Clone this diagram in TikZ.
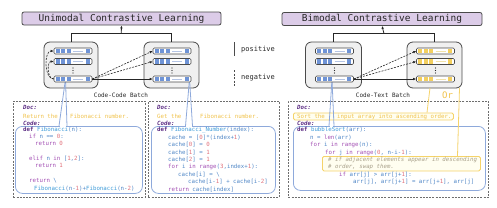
\documentclass[tikz,border=0pt]{standalone}
\usepackage{fontspec}
\setmonofont{DejaVu Sans Mono}
\usetikzlibrary{calc,arrows.meta}
\definecolor{titlefill}{HTML}{DCCCE8}
\definecolor{edge}{HTML}{4A4A4A}
\definecolor{boxfill}{HTML}{F0F0F0}
\definecolor{tokblue}{HTML}{6E93D6}
\definecolor{tokbluel}{HTML}{B4C4E4}
\definecolor{tokyel}{HTML}{F3CF5E}
\definecolor{tokyell}{HTML}{F2E2A8}
\definecolor{codeblue}{HTML}{8EA9DB}
\definecolor{lineyel}{HTML}{F5D36A}
\definecolor{docyel}{HTML}{F0C24B}
\definecolor{kwpurple}{HTML}{A24FB3}
\definecolor{defpurple}{HTML}{5B2C83}
\definecolor{idblue}{HTML}{4F86C6}
\definecolor{fnblue}{HTML}{3E9BD8}
\definecolor{numc}{HTML}{E0707A}
\definecolor{plain}{HTML}{3A3A3A}
\definecolor{dashgray}{HTML}{6E6E6E}
\definecolor{cmtgray}{HTML}{A8A08A}
\newcommand\ckw[1]{\textcolor{kwpurple}{#1}}
\newcommand\cdef[1]{\textcolor{defpurple}{\bfseries #1}}
\newcommand\cfn[1]{\textcolor{fnblue}{#1}}
\newcommand\cnum[1]{\textcolor{numc}{#1}}
\newcommand\cdoc[1]{\textcolor{defpurple}{\itshape\bfseries #1}}
\tikzset{
  ttl/.style={draw=edge, fill=titlefill, line width=0.8pt, rounded corners=2pt, minimum height=13pt, inner sep=0pt, text=black!85, font=\ttfamily\fontsize{9.5}{10}\selectfont},
  batch/.style={draw=edge, fill=boxfill, line width=0.8pt, rounded corners=6pt, inner sep=0pt},
  tbar/.style={draw=edge, fill=white, line width=0.6pt, rounded corners=1.2pt, minimum width=38pt, minimum height=6pt, inner sep=0pt},
  outerbox/.style={draw=dashgray, line width=0.9pt, dash pattern=on 2pt off 1.2pt, inner sep=0pt, anchor=north west},
  codebox/.style={draw=codeblue, line width=0.8pt, rounded corners=7pt, inner sep=0pt, anchor=north west},
  ybox/.style={draw=lineyel, fill=yellow!6, line width=0.8pt, rounded corners=1.5pt, inner sep=0pt, anchor=north west},
  bline/.style={draw=codeblue, line width=0.8pt},
  yline/.style={draw=lineyel, line width=0.8pt},
  ct/.style={anchor=base west, yshift=-2pt, inner sep=0pt, text=idblue, font=\ttfamily\fontsize{5.75}{6}\selectfont},
  lbl/.style={inner sep=0pt, text=black!85, font=\ttfamily\fontsize{6}{6}\selectfont},
  posarr/.style={-{Latex[length=3pt,width=2.6pt]}, line width=0.6pt, draw=black!85},
  negarr/.style={posarr, dash pattern=on 2pt off 1.2pt},
  uparr/.style={line width=0.8pt, draw=black!85}
}
\newcommand\tokbar[5]{%
  \node[tbar] (#1) at (#2,#3) {};
  \fill[#4] ($(#1.west)+(2,-2.1)$) rectangle ++(4,4.2);
  \fill[#4] ($(#1.west)+(7.5,-2.1)$) rectangle ++(4,4.2);
  \fill[#4] ($(#1.west)+(13,-2.1)$) rectangle ++(4,4.2);
  \draw[#5, line width=1pt] ($(#1.west)+(19.5,0)$) -- ++(10,0);
  \fill[#4] ($(#1.west)+(32,-2.1)$) rectangle ++(4,4.2);
}
\newcommand\vdotsat[2]{%
  \foreach \dy in {-2.5,0,2.5} {\fill[black!85] (#1,#2+\dy) circle (0.55);}
}
\begin{document}
\begin{tikzpicture}[x=1pt,y=-1pt]
\useasboundingbox (0,0) rectangle (497,207);

% outer dashed containers
\node[outerbox, minimum width=132pt, minimum height=96pt] (D1) at (13,101) {};
\node[outerbox, minimum width=131pt, minimum height=96pt] (D2) at (148,101) {};
\node[outerbox, minimum width=200pt, minimum height=96pt] (D3) at (288,101) {};

% titles
\node[ttl, minimum width=199pt] (T1) at (121.5,18.5) {Unimodal Contrastive Learning};
\node[ttl, minimum width=200pt] (T2) at (382,19) {Bimodal Contrastive Learning};

% batch boxes
\node[batch, minimum width=54pt, minimum height=46pt] (B1) at (71,65) {};
\node[batch, minimum width=55pt, minimum height=46pt] (B2) at (171.5,65) {};
\node[batch, minimum width=56pt, minimum height=46pt] (B3) at (333.5,65) {};
\node[batch, minimum width=55pt, minimum height=46pt] (B4) at (434.5,65) {};

% up connectors
\draw[uparr] (B1.north) -- ++(0,-8) coordinate (j1) -| (B2.north);
\draw[uparr, -{Latex[length=3pt,width=2.6pt]}] ($(j1)!0.5!(B2.north |- j1)$) -- (T1.south);
\draw[uparr] (B3.north) -- ++(0,-8) coordinate (j2) -| (B4.north);
\draw[uparr, -{Latex[length=3pt,width=2.6pt]}] ($(j2)!0.5!(B4.north |- j2)$) -- (T2.south);

% yellow boxes (doc and comment)
\node[ybox, minimum width=160pt, minimum height=7pt] (Y1) at (293,112.5) {};
\node[ybox, minimum width=158pt, minimum height=14.5pt] (Y2) at (322,156) {};

% code boxes
\node[codebox, minimum width=127pt, minimum height=67pt] (C1) at (15,126) {};
\node[codebox, minimum width=124pt, minimum height=67pt] (C2) at (151,126) {};
\node[codebox, minimum width=192pt, minimum height=64pt] (C3) at (293,126) {};

% tabs
\coordinate (t1) at (65.5,79);  \coordinate (t1l) at (59,126);   \coordinate (t1r) at (67,126);
\coordinate (t2) at (189.5,79); \coordinate (t2l) at (185.5,126); \coordinate (t2r) at (192.5,126);
\coordinate (t3) at (332,79);   \coordinate (t3l) at (329,126);  \coordinate (t3r) at (334,126);
\foreach \a/\b in {t1l/t1r, t2l/t2r, t3l/t3r} {
  \fill[white] ($(\a)+(0.6,-1.2)$) rectangle ($(\b)+(-0.6,1.2)$);
}
\draw[bline] (t1) -- (t1l); \draw[bline] (t1) -- (t1r);
\draw[bline] (t2) -- (t2l); \draw[bline] (t2) -- (t2r);
\draw[bline] (t3) -- (t3l); \draw[bline] (t3) -- (t3r);

% yellow connectors
\coordinate (y1s) at (430,88);   \coordinate (y1e) at (427,112.5);
\coordinate (y2s) at (459.5,88); \coordinate (y2e) at (457.5,156);
\draw[yline] (y1s) -- (y1e);
\draw[yline] (y2s) -- (y2e);
\node[inner sep=0pt, text=docyel, font=\ttfamily\fontsize{9}{9}\selectfont] (or) at (447.5,95) {Or};

% token bars
\tokbar{a1}{73}{51}{tokblue}{tokbluel}
\tokbar{a2}{73}{61.5}{tokblue}{tokbluel}
\tokbar{a3}{73}{79}{tokblue}{tokbluel}
\tokbar{b1}{172}{51}{tokblue}{tokbluel}
\tokbar{b2}{172}{61.5}{tokblue}{tokbluel}
\tokbar{b3}{172}{79}{tokblue}{tokbluel}
\tokbar{c1}{334.5}{51}{tokblue}{tokbluel}
\tokbar{c2}{334.5}{61.5}{tokblue}{tokbluel}
\tokbar{c3}{334.5}{79}{tokblue}{tokbluel}
\tokbar{e1}{435.5}{51}{tokyel}{tokyell}
\tokbar{e2}{435.5}{61.5}{tokyel}{tokyell}
\tokbar{e3}{435.5}{79}{tokyel}{tokyell}
\vdotsat{73}{70.5}
\vdotsat{172}{70.5}
\vdotsat{334.5}{70.5}
\vdotsat{435.5}{70.5}

% contrast arrows
\draw[negarr] (a3.west) to[out=180,in=180,looseness=0.9] (a1.west);
\draw[negarr] (a3.west) to[out=180,in=180,looseness=1.0] (a2.west);
\draw[negarr] (a3.east) -- (b1.west);
\draw[negarr] (a3.east) -- (b2.west);
\draw[posarr] (a3.east) -- (b3.west);
\draw[negarr] (c3.east) -- (e1.west);
\draw[negarr] (c3.east) -- (e2.west);
\draw[posarr] (c3.east) -- (e3.west);

% batch labels
\node[lbl] (L1) at (121,95) {Code-Code Batch};
\node[lbl] (L2) at (383,95) {Code-Text Batch};

% legend
\coordinate (g1) at (234,42); \coordinate (g2) at (234,56);
\coordinate (g3) at (234,70); \coordinate (g4) at (234,86);
\draw[line width=1pt, draw=black!70] (g1) -- (g2);
\draw[line width=1pt, draw=black!70, dash pattern=on 2pt off 1.5pt] (g3) -- (g4);
\node[lbl, anchor=west, font=\ttfamily\fontsize{7}{7}\selectfont] (pos) at (241,49.5) {positive};
\node[lbl, anchor=west, font=\ttfamily\fontsize{7}{7}\selectfont] (neg) at (241,78) {negative};

% ---- code 1 ----
\node[ct] (p1) at (23,107) {\cdoc{Doc:}};
\node[ct, text=docyel] (p2) at (23,116) {Return the};
\node[ct, text=docyel] (p3) at (70,116) {Fibonacci number.};
\node[ct] (p4) at (23,123) {\cdoc{Code:}};
\node[ct] (p5) at (23,129.5) {\cdef{def} \cfn{Fibonacci}(n):};
\node[ct] (p6) at (29,136.5) {\ckw{if} n == \cnum{0}:};
\node[ct] (p7) at (35,143.5) {\ckw{return} \cnum{0}};
\node[ct] (p8) at (29,158) {\ckw{elif} n \ckw{in} [\cnum{1},\cnum{2}]:};
\node[ct] (p9) at (35,165) {\ckw{return} \cnum{1}};
\node[ct] (p10) at (29,180) {\ckw{return} \textbackslash};
\node[ct] (p11) at (34,188) {\cfn{Fibonacci}(n-\cnum{1})+\cfn{Fibonacci}(n-\cnum{2})};

% ---- code 2 ----
\node[ct] (q1) at (157,107) {\cdoc{Doc:}};
\node[ct, text=docyel] (q2) at (157,116) {Get the};
\node[ct, text=docyel] (q3) at (200,116) {Fibonacci number.};
\node[ct] (q4) at (157,123) {\cdoc{Code:}};
\node[ct] (q5) at (157,129.5) {\cdef{def} \cfn{Fibonacci\_Number}(index):};
\node[ct] (q6) at (168,137) {cache = [\cnum{0}]*(index+\cnum{1})};
\node[ct] (q7) at (168,144.5) {cache[\cnum{0}] = \cnum{0}};
\node[ct] (q8) at (168,152) {cache[\cnum{1}] = \cnum{1}};
\node[ct] (q9) at (168,159) {cache[\cnum{2}] = \cnum{1}};
\node[ct] (q10) at (168,166.5) {\ckw{for} i \ckw{in} \ckw{range}(\cnum{3},index+\cnum{1}):};
\node[ct] (q11) at (178,174) {cache[i] = \textbackslash};
\node[ct] (q12) at (188,181.5) {cache[i-\cnum{1}] + cache[i-\cnum{2}]};
\node[ct] (q13) at (168,189) {\ckw{return} cache[index]};

% ---- code 3 ----
\node[ct] (r1) at (297,107) {\cdoc{Doc:}};
\node[ct, text=docyel] (r2) at (297,116) {Sort the};
\node[ct, text=docyel] (r3) at (337,116) {input array into ascending order.};
\node[ct] (r4) at (297,123) {\cdoc{Code:}};
\node[ct] (r5) at (297,129.5) {\cdef{def} \cfn{bubbleSort}(arr):};
\node[ct] (r6) at (310,137) {n = \ckw{len}(arr)};
\node[ct] (r7) at (310,144.5) {\ckw{for} i \ckw{in} \ckw{range}(n):};
\node[ct] (r8) at (325,152) {\ckw{for} j \ckw{in} \ckw{range}(\cnum{0}, n-i-\cnum{1}):};
\node[ct, text=cmtgray, font=\ttfamily\itshape\fontsize{5.75}{6}\selectfont] (r9) at (328,159.5) {\# if adjacent elements appear in descending};
\node[ct, text=cmtgray, font=\ttfamily\itshape\fontsize{5.75}{6}\selectfont] (r10) at (328,166.5) {\# order, swap them.};
\node[ct] (r11) at (339,174) {\ckw{if} arr[j] > arr[j+\cnum{1}]:};
\node[ct] (r12) at (353,181.5) {arr[j], arr[j+\cnum{1}] = arr[j+\cnum{1}], arr[j]};
\end{tikzpicture}
\end{document}
